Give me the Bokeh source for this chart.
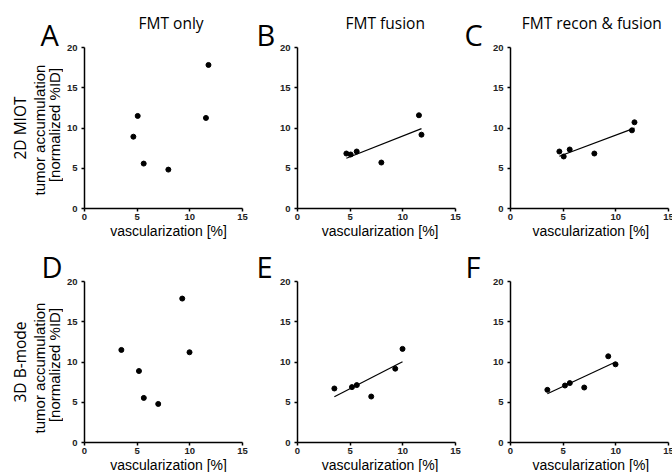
import numpy as np
from bokeh.plotting import figure
from bokeh.layouts import row, column
from bokeh.models import Range1d, Label
from bokeh.embed import file_html
from bokeh.resources import INLINE

# ---------------- data ----------------
col_titles = ["FMT only", "FMT fusion", "FMT recon & fusion"]
row_titles = ["2D MIOT", "3D B-mode"]
letters = [["A", "B", "C"], ["D", "E", "F"]]
x_ticks = [0, 5, 10, 15]
y_ticks = [0, 5, 10, 15, 20]
x_title = "vascularization [%]"
y_title_1 = "tumor accumulation"
y_title_2 = "[normalized %ID]"

vasc_2d = [4.64, 5.05, 5.62, 7.96, 11.53, 11.77]
vasc_3d = [3.50, 5.17, 5.63, 7.00, 9.28, 9.97]

acc_A = [8.92, 11.50, 5.58, 4.83, 11.25, 17.83]
acc_B = [6.83, 6.71, 7.08, 5.71, 11.58, 9.17]
acc_C = [7.08, 6.46, 7.33, 6.83, 9.71, 10.71]
acc_D = [11.50, 8.88, 5.54, 4.79, 17.88, 11.21]
acc_E = [6.71, 6.88, 7.13, 5.71, 9.17, 11.63]
acc_F = [6.54, 7.08, 7.38, 6.83, 10.71, 9.71]

panels_x = [[vasc_2d, vasc_2d, vasc_2d], [vasc_3d, vasc_3d, vasc_3d]]
panels_y = [[acc_A, acc_B, acc_C], [acc_D, acc_E, acc_F]]
show_fit = [False, True, True]

# ---------------- geometry (pixels from the page's top-left) ----------------
FW, FH = 158, 161
col_L = [20, 18, 18]
col_R = [7, 6, 11]
strip_w = [63, 27, 28]
T, B = 5, 16
top_band_h, mid_band_h, bot_band_h = 42, 52, 14

TITLE_FONT = "Open Sans"
AX_FONT = "Liberation Sans"

strip_x, col_x, col_w = [], [], []
x = 0
for c in range(3):
    strip_x.append(x)
    x += strip_w[c]
    col_x.append(x)
    col_w.append(col_L[c] + FW + col_R[c])
    x += col_w[-1]
frame_left = [col_x[c] + col_L[c] for c in range(3)]

panel_h = T + FH + B
y_panel = [top_band_h, top_band_h + panel_h + mid_band_h]
y_mid_band = y_panel[0] + panel_h
y_bot_band = y_panel[1] + panel_h
frame_top = [y_panel[r] + T for r in range(2)]
total_h = top_band_h + 2 * panel_h + mid_band_h + bot_band_h

# text placement (visual centres / left edges, pixels relative to the frames)
letter_dx = [[-43, -38, -43], [-42, -38, -42]]
letter_dy = [-13, -15]
title_cx = [3, 6, 1]
title_dy = -25
xtitle_dy = 22
rowlab_dx = -64
ytitle1_dx, ytitle2_dx = -44, -29.5
ytitle1_dy = [2, 6]
ytitle2_dy = [-3, 3]


def text_fig(x0, y0, w, h):
    p = figure(width=w, height=h,
               x_range=Range1d(x0, x0 + w), y_range=Range1d(y0 + h, y0),
               min_border=0, x_axis_type=None, y_axis_type=None,
               toolbar_location=None, output_backend="svg")
    p.outline_line_color = None
    p.background_fill_color = "white"
    p.border_fill_color = "white"
    return p


def add_text(p, x, y, text, font, size, align="center", angle=0.0):
    p.add_layout(Label(x=x, y=y, text=text, text_font=font, text_font_size=size,
                       text_align=align, text_baseline="middle", angle=angle,
                       text_color="black"))


def panel(r, c):
    p = figure(width=col_w[c], height=panel_h, frame_width=FW, frame_height=FH,
               x_range=Range1d(0, 15), y_range=Range1d(0, 20),
               min_border_left=col_L[c], min_border_right=col_R[c],
               min_border_top=T, min_border_bottom=B,
               toolbar_location=None, output_backend="svg")
    p.outline_line_color = None
    p.xgrid.visible = False
    p.ygrid.visible = False
    p.background_fill_color = "white"
    p.border_fill_color = "white"
    for ax, ticks, so in ((p.xaxis, x_ticks, 2), (p.yaxis, y_ticks, 4)):
        ax.ticker = ticks
        ax.axis_line_width = 1.5
        ax.axis_line_color = "black"
        ax.major_tick_line_width = 1.5
        ax.major_tick_line_color = "black"
        ax.major_tick_out = 3
        ax.major_tick_in = 0
        ax.minor_tick_line_color = None
        ax.major_label_text_font = AX_FONT
        ax.major_label_text_font_size = "9.5px"
        ax.major_label_text_font_style = "bold"
        ax.major_label_text_color = "#222222"
        ax.major_label_standoff = so
    xs = panels_x[r][c]
    ys = panels_y[r][c]
    p.scatter(xs, ys, size=5, color="black")
    if show_fit[c]:
        k, b = np.polyfit(xs, ys, 1)
        lx = [min(xs), max(xs)]
        ly = [k * v + b for v in lx]
        p.line(lx, ly, line_color="black", line_width=1.2)
    return p


strips = []
for s in range(3):
    sf = text_fig(strip_x[s], 0, strip_w[s], total_h)
    for r in range(2):
        add_text(sf, frame_left[s] + letter_dx[r][s], frame_top[r] + letter_dy[r],
                 letters[r][s], TITLE_FONT, "29px", align="left")
    if s == 0:
        for r in range(2):
            cy = frame_top[r] + FH / 2
            add_text(sf, frame_left[0] + rowlab_dx, cy, row_titles[r], TITLE_FONT,
                     "15.5px", angle=np.pi / 2)
            add_text(sf, frame_left[0] + ytitle1_dx, cy + ytitle1_dy[r], y_title_1,
                     AX_FONT, "15px", angle=np.pi / 2)
            add_text(sf, frame_left[0] + ytitle2_dx, cy + ytitle2_dy[r], y_title_2,
                     AX_FONT, "15px", angle=np.pi / 2)
    strips.append(sf)

cols = []
for c in range(3):
    cx = frame_left[c] + FW / 2
    top = text_fig(col_x[c], 0, col_w[c], top_band_h)
    add_text(top, cx + title_cx[c], frame_top[0] + title_dy, col_titles[c],
             TITLE_FONT, "15.5px")
    mid = text_fig(col_x[c], y_mid_band, col_w[c], mid_band_h)
    add_text(mid, cx, frame_top[0] + FH + xtitle_dy, x_title, AX_FONT, "14px")
    bot = text_fig(col_x[c], y_bot_band, col_w[c], bot_band_h)
    add_text(bot, cx, frame_top[1] + FH + xtitle_dy, x_title, AX_FONT, "14px")
    cols.append(column(top, panel(0, c), mid, panel(1, c), bot, spacing=0))

layout = row(strips[0], cols[0], strips[1], cols[1], strips[2], cols[2], spacing=0)

with open("out.html", "w") as f:
    f.write(file_html(layout, INLINE))
